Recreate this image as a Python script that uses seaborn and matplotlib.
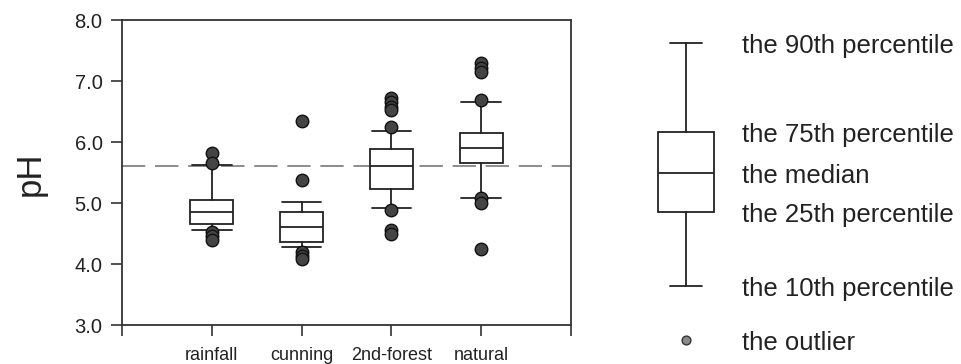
import matplotlib
matplotlib.use("Agg")
import matplotlib.pyplot as plt
import seaborn as sns
import pandas as pd

# Sites and box statistics (10th / 25th / 50th / 75th / 90th percentiles of pH)
sites = ["rainfall", "cunning", "2nd-forest", "natural"]
p10 = [4.56, 4.28, 4.91, 5.09]
q25 = [4.65, 4.36, 5.23, 5.66]
median = [4.86, 4.61, 5.60, 5.90]
q75 = [5.05, 4.86, 5.89, 6.14]
p90 = [5.62, 5.02, 6.18, 6.65]

# Values outside the 10th-90th percentile range
out_rainfall = [5.82, 5.65, 4.52, 4.46, 4.40]
out_cunning = [6.35, 5.38, 4.20, 4.13, 4.08]
out_forest = [6.72, 6.65, 6.58, 6.52, 6.25, 4.88, 4.55, 4.50]
out_natural = [7.30, 7.22, 7.15, 6.69, 5.08, 5.00, 4.24]

# pH of unpolluted rain
reference_ph = 5.6

# Key explaining the box elements
key_stats = dict(whislo=3.64, q1=4.85, med=5.50, q3=6.17, whishi=7.63)
key_outlier = 2.75
key_labels = ["the 90th percentile", "the 75th percentile", "the median",
              "the 25th percentile", "the 10th percentile", "the outlier"]

sns.set_theme(style="ticks")
plt.rcParams["font.family"] = ["Liberation Sans", "DejaVu Sans"]

ink = "#222222"
fig = plt.figure(figsize=(9.61, 3.64), dpi=100)
ax = fig.add_axes([122 / 961, 1 - 325 / 364, 449 / 961, 305 / 364])

line_kw = dict(color=ink, linewidth=1.3)
box_stats = [
    dict(label=s, whislo=lo, q1=a, med=m, q3=b, whishi=hi, fliers=[])
    for s, lo, a, m, b, hi in zip(sites, p10, q25, median, q75, p90)
]

ax.axhline(reference_ph, color="#8c8c8c", linewidth=1.4,
           dashes=(12, 5), zorder=1)

ax.bxp(box_stats, positions=range(len(sites)), widths=0.475, capwidths=0.44,
       showfliers=False, patch_artist=True, manage_ticks=False,
       boxprops=dict(facecolor="white", edgecolor=ink, linewidth=1.3),
       medianprops=line_kw, whiskerprops=line_kw, capprops=line_kw,
       zorder=3)

outlier_values = [out_rainfall, out_cunning, out_forest, out_natural]
outlier_df = pd.DataFrame({
    "site": [s for s, vals in zip(sites, outlier_values) for _ in vals],
    "pH": [v for vals in outlier_values for v in vals],
})
sns.stripplot(data=outlier_df, x="site", y="pH", order=sites, jitter=False,
              color="#444444", edgecolor="#111111", linewidth=1.0, size=9,
              ax=ax, zorder=4)

ax.set_xlim(-1, len(sites))
ax.set_xticks(range(-1, len(sites) + 1))
ax.set_xticklabels([""] + sites + [""])
ax.set_ylim(3, 8)
ax.set_yticks([3, 4, 5, 6, 7, 8])
ax.set_yticklabels([f"{v:.1f}" for v in [3, 4, 5, 6, 7, 8]])
ax.set_xlabel("")
ax.set_ylabel("pH", fontsize=25, color=ink)
ax.yaxis.set_label_coords(-0.167, 0.495)

ax.tick_params(axis="both", direction="out", length=8, width=1.1,
               color=ink, labelcolor=ink)
ax.tick_params(axis="y", labelsize=14.5, pad=6)
ax.tick_params(axis="x", labelsize=13, pad=7.5)
for sp in ax.spines.values():
    sp.set_visible(True)
    sp.set_color("#333333")
    sp.set_linewidth(1.3)

# Key panel on the right
kax = fig.add_axes([641 / 961, 1 - 325 / 364, 90 / 961, 305 / 364])
kax.set_xlim(0.5, 1.5)
kax.set_ylim(3, 8)
kax.axis("off")
kax.bxp([dict(label="", fliers=[], **key_stats)], positions=[1], widths=0.63,
        capwidths=0.36, showfliers=False, patch_artist=True,
        manage_ticks=False,
        boxprops=dict(facecolor="white", edgecolor=ink, linewidth=1.3),
        medianprops=line_kw, whiskerprops=line_kw, capprops=line_kw)
kax.scatter([1], [key_outlier], s=40, color="#8a8a8a", edgecolor="#333333",
            linewidth=1.0, clip_on=False, zorder=4)

key_y = [key_stats["whishi"], key_stats["q3"], key_stats["med"],
         key_stats["q1"], key_stats["whislo"], key_outlier]
for y, txt in zip(key_y, key_labels):
    kax.text(1.62, y - 0.05, txt, fontsize=18.5, color=ink, va="center",
             ha="left", clip_on=False)

fig.savefig("out.png", dpi=100)
